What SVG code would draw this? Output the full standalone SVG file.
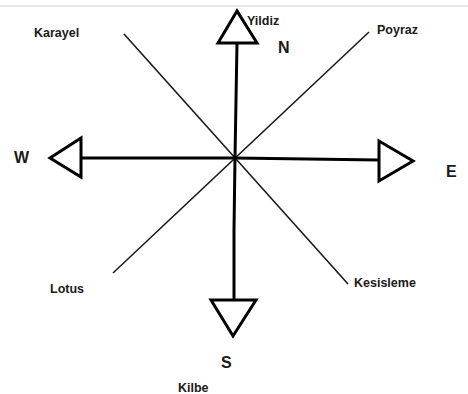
<svg xmlns="http://www.w3.org/2000/svg" width="468" height="394" viewBox="0 0 468 394">
<style>
.lbl{font-family:"Liberation Sans",Arial,sans-serif;font-weight:bold;fill:#1a1a1a;font-size:12.5px}
.big{font-size:16px}
.stem{stroke:#000;stroke-width:3;fill:none;stroke-linecap:round}
.diag{stroke:#1a1a1a;stroke-width:1.6;fill:none}
.head{stroke:#000;stroke-width:3;fill:#fff;stroke-linejoin:miter}
</style>
<rect width="468" height="394" fill="#fff"/>
<line x1="0" y1="6" x2="468" y2="6" stroke="#e8e8e8" stroke-width="2"/>
<g id="connectors">
<line class="diag" x1="124" y1="34" x2="348" y2="284"/>
<line class="diag" x1="369" y1="32" x2="113" y2="273"/>
<polyline class="stem" points="237,43 236,100 235,158"/>
<polyline class="stem" points="235,158 234,230 234,300"/>
<line class="stem" x1="81" y1="158" x2="235" y2="158"/>
<line class="stem" x1="235" y1="158" x2="379" y2="160"/>
</g>
<g id="north"><polygon class="head" points="237,11 218,43 257,43"/></g>
<g id="south"><polygon class="head" points="211,300 256,300 233,336"/></g>
<g id="west"><polygon class="head" points="50,158 81,138 81,177"/></g>
<g id="east"><polygon class="head" points="379,141 379,181 413,161"/></g>
<g id="labels">
<text class="lbl" x="34" y="37">Karayel</text>
<text class="lbl" x="247" y="25">Yildiz</text>
<text class="lbl big" x="278" y="53">N</text>
<text class="lbl" x="377" y="34">Poyraz</text>
<text class="lbl big" x="14" y="163">W</text>
<text class="lbl big" x="446" y="177">E</text>
<text class="lbl" x="50" y="293">Lotus</text>
<text class="lbl" x="354" y="287">Kesisleme</text>
<text class="lbl big" x="221" y="368">S</text>
<text class="lbl" x="178" y="392">Kilbe</text>
</g>
</svg>
